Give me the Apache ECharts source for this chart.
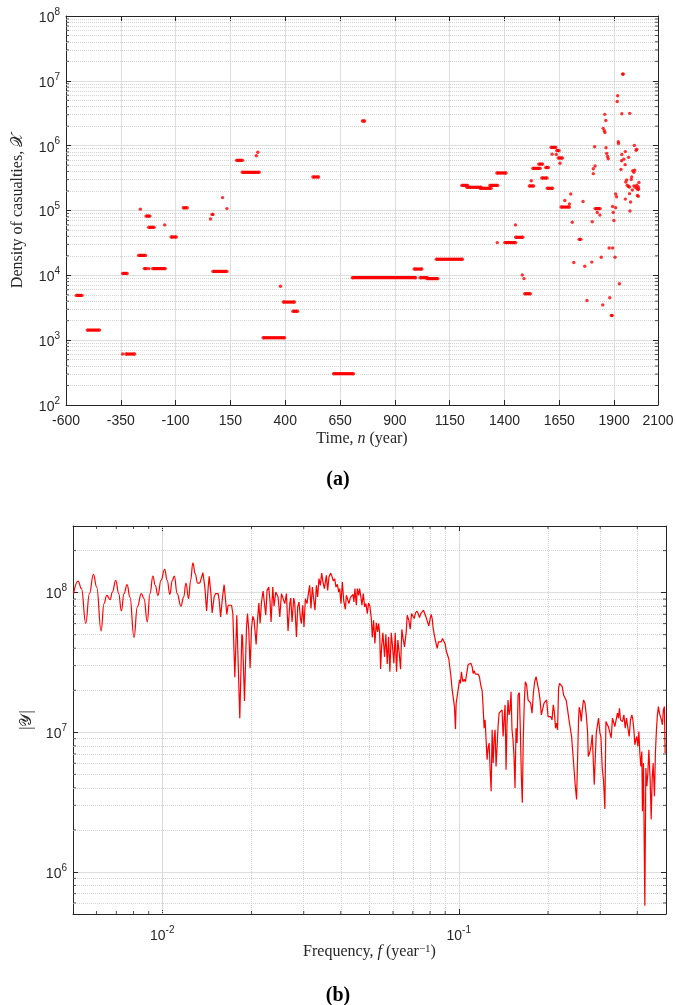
<!DOCTYPE html>
<html><head><meta charset="utf-8">
<script src="https://cdn.jsdelivr.net/npm/echarts@6/dist/echarts.min.js"></script>
<style>html,body{margin:0;padding:0;background:#fff}#c{width:676px;height:1005px}</style>
</head><body><div id="c"></div>
<script>
// ---------- Panel (a): density of casualties, runs [startYear, endYear, density]
const warRuns = [
[-553,-527,4900],[-503,-447,1430],[-342,-321,10700],[-342,-342,611],[-327,-287,611],
[-269,-237,20300],[-261,-261,105000],[-235,-217,82000],[-223,-198,55000],[-243,-233,12700],
[-222,-222,12700],[-205,-147,12700],[-150,-150,60000],[-121,-97,39000],[-65,-47,110000],
[59,59,74000],[66,70,87000],[70,134,11500],[114,114,158000],[134,134,107000],
[178,205,594000],[204,281,388000],[268,268,700000],[275,275,790000],[299,397,1090],
[378,378,6800],[391,442,3870],[435,456,2790],[526,552,329000],[620,711,304],
[706,995,9200],[752,762,2400000],[988,1023,12500],[1015,1048,9200],[1046,1096,8900],
[1089,1208,17700],[1205,1232,244000],[1228,1293,228000],[1289,1339,220000],[1333,1369,244000],
[1365,1407,379000],[1367,1367,32000],[1401,1451,32000],[1450,1450,60000],[1451,1483,38600],
[1481,1481,10100],[1489,1489,8900],[1492,1518,5200],[1522,1522,288000],[1513,1533,239000],
[1529,1563,447000],[1556,1574,520000],[1588,1600,460000],[1570,1594,317000],[1595,1619,220000],
[1612,1634,940000],[1617,1617,740000],[1638,1649,840000],[1636,1636,730000],[1645,1664,645000],
[1653,1653,535000],[1702,1702,180000],[1675,1675,143000],[1658,1696,113000],[1696,1696,126000],
[1709,1709,66000],[1716,1716,15800],[1740,1748,35900],[1758,1758,138000],[1766,1766,13800],
[1776,1776,4100],[1798,1798,16000],[1800,1800,67000],[1811,1811,960000],[1813,1813,485000],
[1805,1805,440000],[1805,1805,370000],[1813,1836,107000],[1823,1823,93000],[1835,1835,85000],
[1841,1841,19000],[1848,1848,3500],[1857,1857,3040000],[1862,1862,2450000],[1850,1850,1850000],
[1855,1855,1700000],[1858,1858,1600000],[1863,1863,930000],[1866,1866,760000],[1870,1870,680000],
[1873,1873,630000],[1877,1877,26400],[1893,1893,26400],[1880,1880,4500],[1887,1891,2400],
[1893,1893,115000],[1896,1896,93000],[1899,1899,70000],[1904,1904,19000],[1907,1907,180000],
[1911,1911,163000],[1907,1907,110000],[1914,1914,4800000],[1916,1916,5900000],[1919,1919,1150000],
[1920,1920,1080000],[1924,1924,7400],[1935,1935,3100000],[1938,1942,12700000],[1971,1971,3150000],
[1935,1935,730000],[1951,1951,810000],[1966,1966,660000],[1992,1992,1010000],[2000,2000,850000],
[2003,2003,880000],[1934,1934,586000],[1944,1944,620000],[1950,1950,510000],[1931,1931,430000],
[1985,1985,410000],[1990,1990,390000],[1994,1994,420000],[1980,1980,330000],[1957,1957,295000],
[1953,1953,275000],[1978,1978,300000],[1960,1960,245000],[1965,1965,235000],[1970,1970,230000],
[1990,1990,240000],[1995,1995,230000],[2003,2003,245000],[2010,2010,230000],[2013,2013,270000],
[2003,2003,220000],[2008,2008,210000],[2012,2012,215000],[1983,1983,207000],[1970,1970,182000],
[2006,2006,170000],[2010,2010,166000],[1951,1951,150000],[1975,1975,135000],[1972,1972,98000]
];
const timeRange = [-600, 2100];
const timeTickStep = 250;
const densityRange = [1e2, 1e8];

// ---------- Panel (b): spectrum [frequency (1/year), |Y|]
const spectrum = [
[0.00502,9.84e7],[0.00520,1.21e8],[0.00534,1.068e8],[0.00552,6.01e7],[0.00568,9.84e7],[0.00586,1.35e8],
[0.00601,1.096e8],[0.00622,5.32e7],[0.00636,8.35e7],[0.00650,9.57e7],[0.00667,8.92e7],[0.00679,1.01e8],
[0.00697,1.224e8],[0.00713,9.84e7],[0.00728,7.39e7],[0.00743,9.84e7],[0.00761,1.14e8],[0.00778,9.30e7],
[0.00803,4.78e7],[0.00824,7.90e7],[0.00850,9.84e7],[0.00868,9.06e7],[0.00890,6.17e7],[0.00909,9.84e7],
[0.00930,1.313e8],[0.00947,1.127e8],[0.00967,9.57e7],[0.00990,1.224e8],[0.01019,1.466e8],[0.01039,1.224e8],
[0.01061,9.72e7],[0.01081,1.224e8],[0.01098,1.313e8],[0.01123,9.84e7],[0.01156,7.99e7],[0.01181,9.30e7],
[0.01202,1.171e8],[0.01227,9.06e7],[0.01246,1.224e8],[0.01269,1.637e8],[0.01291,1.366e8],[0.01316,1.171e8],
[0.01339,1.171e8],
[0.01371,1.389e8],[0.01392,1.096e8],[0.01411,7.39e7],[0.01429,1.096e8],[0.01440,1.307e8],[0.01459,9.84e7],
[0.01473,7.15e7],[0.01496,9.30e7],[0.01513,9.84e7],[0.01544,9.84e7],[0.01556,8.81e7],[0.01573,6.70e7],
[0.01597,9.30e7],[0.01617,1.14e8],[0.01635,8.81e7],[0.01651,6.97e7],[0.01668,8.12e7],[0.01686,8.35e7],
[0.01713,8.12e7],[0.01730,7.08e7],[0.01757,2.476e7],[0.01784,6.89e7],[0.01798,7.08e7],[0.01826,1.263e7],
[0.01855,5.04e7],[0.01865,4.82e7],[0.01894,1.677e7],[0.01924,5.68e7],[0.01939,7.08e7],[0.01958,5.38e7],
[0.01978,2.87e7],[0.02000,5.54e7],[0.02020,6.78e7],[0.02041,6.34e7],[0.02073,4.26e7],[0.02095,6.34e7],
[0.02117,8.43e7],[0.02138,6.01e7],[0.02161,8.57e7],[0.02188,1.027e8],[0.02212,1.01e8],[0.02234,6.89e7],
[0.02257,1.038e8],[0.02287,1.096e8],[0.02310,8.57e7],[0.02328,6.17e7],[0.02359,1.096e8],[0.02383,7.99e7],
[0.02415,1.01e8],[0.02439,9.84e7],[0.02458,9.30e7],[0.02491,6.70e7],[0.02524,9.84e7],[0.02555,9.84e7],
[0.02589,8.35e7],[0.02623,9.84e7],[0.02656,5.32e7],[0.02692,8.35e7],[0.02713,9.15e7],[0.02740,6.17e7],
[0.02776,9.15e7],[0.02798,8.35e7],[0.02835,4.82e7],[0.02863,7.90e7],[0.02892,8.57e7],[0.02924,6.52e7],
[0.02947,6.01e7],[0.02976,8.12e7],[0.03006,5.68e7],[0.03039,9.06e7],[0.03077,8.35e7],[0.03110,9.84e7],
[0.03142,1.127e8],[0.03174,7.69e7],[0.03208,1.096e8],[0.03241,1.068e8],[0.03274,7.48e7],[0.03310,1.127e8],
[0.03343,9.30e7],[0.03377,1.259e8],[0.03414,1.127e8],[0.03449,1.380e8],[0.03484,1.190e8],[0.03522,1.068e8],
[0.03549,1.096e8],[0.03577,1.329e8],[0.03613,1.038e8],[0.03650,1.292e8],[0.03698,1.380e8],[0.03736,1.307e8],
[0.03777,1.21e8],[0.03815,1.259e8],[0.03854,1.096e8],[0.03896,1.146e8],[0.03936,1.01e8],[0.03966,1.068e8],
[0.04007,8.35e7],[0.04050,1.190e8],[0.04091,8.81e7],[0.04145,7.60e7],[0.04178,9.57e7],[0.04219,9.84e7],
[0.04262,8.35e7],[0.04308,9.21e7],[0.04352,9.30e7],[0.04397,9.72e7],[0.04431,8.57e7],[0.04465,1.068e8],
[0.04514,8.12e7],[0.04549,1.068e8],[0.04595,9.57e7],[0.04631,1.068e8],[0.04677,9.30e7],[0.04714,8.12e7],
[0.04765,9.84e7],[0.04814,7.90e7],[0.04863,8.35e7],[0.04916,7.08e7],[0.04966,8.43e7],[0.05016,7.99e7],
[0.05071,6.52e7],[0.05110,4.78e7],[0.05162,6.34e7],[0.05214,4.33e7],[0.05271,6.07e7],[0.05325,5.24e7],
[0.05366,6.01e7],[0.05408,5.24e7],[0.05450,2.84e7],[0.05492,4.09e7],[0.05548,5.15e7],[0.05621,3.47e7],
[0.05678,5.04e7],[0.05740,3.08e7],[0.05798,4.82e7],[0.05857,2.71e7],[0.05921,5.15e7],[0.05981,4.09e7],
[0.06040,3.12e7],[0.06107,5.15e7],[0.06168,2.71e7],[0.06231,4.57e7],[0.06299,3.67e7],[0.06363,2.83e7],
[0.06427,5.45e7],[0.06497,4.62e7],[0.06563,4.09e7],[0.06650,5.24e7],[0.06702,6.89e7],[0.06785,6.34e7],
[0.06860,5.47e7],[0.06929,7.08e7],[0.06999,6.89e7],[0.07075,6.52e7],[0.07147,7.15e7],[0.07220,7.39e7],
[0.07298,7.08e7],[0.07373,6.63e7],[0.07448,7.08e7],[0.07529,7.15e7],[0.07604,7.48e7],[0.07681,7.27e7],
[0.07765,6.63e7],[0.07844,6.17e7],[0.07924,5.78e7],[0.08010,6.52e7],[0.08073,7.00e7],[0.08135,6.52e7],
[0.08199,5.54e7],[0.08282,4.88e7],[0.08366,4.78e7],[0.08457,3.99e7],[0.08543,4.44e7],[0.08630,4.52e7],
[0.08724,4.44e7],[0.08812,4.70e7],[0.08902,4.78e7],[0.08999,4.28e7],[0.09091,3.77e7],[0.09183,3.67e7],
[0.09254,3.36e7],[0.09305,3.44e7],
[0.09399,2.57e7],[0.09502,2.01e7],[0.09598,1.954e7],[0.09672,1.528e7],[0.09748,1.054e7],[0.09800,1.615e7],
[0.09876,1.80e7],[0.09954,1.76e7],[0.1006,2.37e7],[0.1013,2.24e7],[0.1021,2.71e7],[0.1032,2.30e7],
[0.1043,2.40e7],[0.1053,2.30e7],[0.1064,2.64e7],[0.1076,3.06e7],[0.1086,3.02e7],[0.1098,3.12e7],
[0.1110,2.94e7],[0.1118,2.64e7],[0.1127,2.76e7],[0.1138,2.61e7],[0.1150,2.67e7],[0.1162,2.61e7],
[0.1174,2.50e7],[0.1186,2.18e7],[0.1199,1.99e7],[0.1208,1.528e7],[0.1218,1.071e7],[0.1227,1.228e7],
[0.1237,1.194e7],[0.1246,6.37e6],[0.1256,7.72e6],[0.1266,8.38e6],[0.1276,5.40e6],[0.1286,3.78e6],
[0.1296,1.042e7],[0.1306,6.03e6],[0.1316,8.84e6],[0.1326,1.042e7],[0.1336,5.70e6],[0.1347,7.92e6],
[0.1357,1.10e7],[0.1368,1.370e7],[0.1378,1.333e7],[0.1389,1.407e7],[0.1400,1.447e7],[0.1411,9.33e6],
[0.1422,1.228e7],[0.1433,1.571e7],[0.1444,5.40e6],[0.1455,1.163e7],[0.1466,1.705e7],[0.1478,1.333e7],
[0.1489,1.447e7],[0.1501,1.954e7],[0.1512,1.042e7],[0.1524,8.84e6],[0.1536,6.72e6],[0.1548,4.00e6],
[0.1560,1.071e7],[0.1573,8.38e6],[0.1585,1.851e7],[0.1601,1.922e7],[0.1613,1.042e7],[0.1626,4.84e6],
[0.1638,3.13e6],[0.1651,9.33e6],[0.1664,1.658e7],[0.1677,2.30e7],[0.1694,2.18e7],[0.1713,1.705e7],
[0.1730,1.658e7],[0.1748,1.615e7],[0.1767,1.370e7],[0.1785,1.903e7],[0.1803,2.30e7],[0.1823,2.50e7],
[0.1841,2.57e7],[0.1860,2.01e7],[0.1880,1.705e7],[0.1899,1.333e7],[0.1918,1.370e7],[0.1939,1.615e7],
[0.1959,1.658e7],[0.1979,1.705e7],[0.2000,1.296e7],[0.2020,1.28e7],[0.2041,1.296e7],[0.2063,1.228e7],
[0.2084,1.571e7],[0.2100,1.407e7],
[0.2121,1.071e7],[0.2138,1.163e7],[0.2154,1.042e7],[0.2171,2.07e7],[0.2188,2.24e7],[0.2212,2.27e7],
[0.2234,2.12e7],[0.2257,1.851e7],[0.2282,1.80e7],[0.2305,1.686e7],[0.2328,1.658e7],[0.2354,1.228e7],
[0.2378,1.194e7],[0.2402,9.33e6],[0.2428,6.91e6],[0.2453,6.72e6],[0.2472,4.11e6],[0.2497,3.30e6],
[0.2516,6.37e6],[0.2535,1.228e7],[0.2549,1.512e7],[0.2569,1.407e7],[0.2589,1.194e7],[0.2609,1.447e7],
[0.2636,1.705e7],[0.2665,1.615e7],[0.2692,1.333e7],[0.2719,1.013e7],[0.2734,6.72e6],[0.2762,7.10e6],
[0.2792,7.92e6],[0.2820,9.60e6],[0.2842,9.33e6],[0.2864,4.22e6],[0.2886,6.37e6],[0.2909,9.87e6],
[0.2931,1.10e7],[0.2961,1.263e7],[0.2993,9.87e6],[0.3016,9.33e6],[0.3047,5.55e6],[0.3077,4.58e6],
[0.3111,2.83e6],[0.3135,1.194e7],[0.3167,1.163e7],[0.3199,1.089e7],[0.3234,1.10e7],[0.3267,9.09e6],
[0.3299,1.263e7],[0.3325,1.277e7],[0.3361,1.10e7],[0.3396,1.131e7],[0.3430,1.370e7],[0.3456,1.263e7],
[0.3484,1.488e7],[0.3511,1.228e7],[0.3538,1.263e7],[0.3566,1.194e7],[0.3605,1.333e7],[0.3642,1.071e7],
[0.3679,1.263e7],[0.3719,1.071e7],[0.3757,9.33e6],[0.3795,1.228e7],[0.3836,1.333e7],[0.3866,1.228e7],
[0.3896,1.042e7],[0.3926,8.14e6],[0.3957,8.84e6],[0.3987,9.33e6],[0.4018,7.92e6],[0.4050,1.013e7],
[0.4081,7.10e6],[0.4113,5.70e6],[0.4145,7.29e6],[0.4164,2.72e6],[0.4197,6.03e6],[0.4219,6.03e6],
[0.4242,5.72e5],[0.4276,5.55e6],[0.4309,4.11e6],[0.4343,5.12e6],[0.4377,7.50e6],[0.4421,4.58e6],
[0.4456,2.38e6],[0.4490,4.58e6],[0.4525,6.03e6],[0.4571,3.48e6],[0.4606,7.10e6],[0.4642,1.042e7],
[0.4678,1.333e7],[0.4714,1.528e7],[0.4751,1.370e7],[0.4788,1.370e7],[0.4825,1.228e7],[0.4862,1.131e7],
[0.4900,1.447e7],[0.4938,1.528e7],[0.4966,7.10e6]
];
const freqRange = [0.005, 0.5];
const magRange = [5e5, 3e8];
const smoothBelowFreq = 0.0134; // the low-frequency part of the trace is drawn as a smooth curve

// ---------- styling
const AX = '#262626', GRIDC = '#dedede', MINORC = '#d4d4d4', RED = '#ff0000';
const SERIF = "'Liberation Serif', 'DejaVu Serif', serif";
const SANS = "'Liberation Sans', Arial, sans-serif";

function minorValues(lo, hi, min, max) {
  const out = [];
  for (let e = lo; e < hi; e++) for (let m = 2; m <= 9; m++) {
    const v = m * Math.pow(10, e);
    if (v > min * 1.0001 && v < max * 0.9999) out.push(v);
  }
  return out;
}
const yMinorA = minorValues(2, 8, densityRange[0], densityRange[1]);
const xMinorB = minorValues(-3, 0, freqRange[0], freqRange[1]);
const yMinorB = minorValues(5, 9, magRange[0], magRange[1]);

function pow10Label(v) {
  const e = Math.log10(v), r = Math.round(e);
  if (Math.abs(e - r) > 1e-6) return '';
  return '{b|10}{s|' + r + '}';
}
const powRich = {
  b: { fontFamily: SANS, fontSize: 14, color: AX, lineHeight: 18, verticalAlign: 'bottom' },
  s: { fontFamily: SANS, fontSize: 10, color: AX, lineHeight: 10, verticalAlign: 'top' }
};
const nameRich = {
  r: { fontFamily: SERIF, fontSize: 16, color: AX },
  i: { fontFamily: SERIF, fontSize: 16, color: AX, fontStyle: 'italic' },
  s: { fontFamily: SERIF, fontSize: 11, color: AX, verticalAlign: 'top', lineHeight: 10 }
};

function axisBase(extra) {
  return Object.assign({
    axisLine: { show: true, onZero: false, lineStyle: { color: AX, width: 1 } },
    axisTick: { show: true, inside: true, length: 5, lineStyle: { color: AX, width: 1 } },
    splitLine: { show: false },
    axisLabel: { show: false },
    minorTick: { show: false },
    silent: true
  }, extra);
}

function tickSeries(xi, yi, pts, size, offset) {
  return { type: 'scatter', xAxisIndex: xi, yAxisIndex: yi, data: pts, symbol: 'rect',
    symbolSize: size, symbolOffset: offset, itemStyle: { color: AX }, silent: true,
    clip: false, z: 6, animation: false };
}

const runsOnly = warRuns.filter(d => d[1] > d[0]);
const endPoints = [];
warRuns.forEach(d => { endPoints.push([d[0], d[2]]); if (d[1] > d[0]) endPoints.push([d[1], d[2]]); });
const spectrumLow = spectrum.filter(d => d[0] <= smoothBelowFreq);
const spectrumHigh = spectrum.filter(d => d[0] >= spectrumLow[spectrumLow.length - 1][0]);

const chart = echarts.init(document.getElementById('c'), null, { renderer: 'canvas' });
chart.setOption({
  animation: false,
  backgroundColor: '#ffffff',
  title: [
    { text: '{p|(}{b|a}{p|)}', left: 'center', top: 465,
      textStyle: { rich: { p: { fontFamily: SERIF, fontSize: 20, color: '#000' }, b: { fontFamily: SERIF, fontSize: 20, fontWeight: 'bold', color: '#000' } } } },
    { text: '{p|(}{b|b}{p|)}', left: 'center', top: 981,
      textStyle: { rich: { p: { fontFamily: SERIF, fontSize: 20, color: '#000' }, b: { fontFamily: SERIF, fontSize: 20, fontWeight: 'bold', color: '#000' } } } }
  ],
  grid: [
    { left: 66, top: 16, width: 592, height: 389, containLabel: false, outerBoundsMode: 'none' },
    { left: 73, top: 526, width: 593, height: 388, containLabel: false, outerBoundsMode: 'none' }
  ],
  xAxis: [
    axisBase({ gridIndex: 0, type: 'value', position: 'bottom', min: timeRange[0], max: timeRange[1], interval: timeTickStep,
      axisLabel: { show: true, fontFamily: SANS, fontSize: 14, color: AX, margin: 9, formatter: v => String(v) },
      splitLine: { show: true, lineStyle: { color: GRIDC, width: 1 } },
      name: '{r|Time, }{i|n}{r| (year)}', nameLocation: 'middle', nameGap: 26,
      nameTextStyle: { rich: nameRich } }),
    axisBase({ gridIndex: 0, type: 'value', position: 'top', min: timeRange[0], max: timeRange[1], interval: timeTickStep }),
    axisBase({ gridIndex: 1, type: 'log', logBase: 10, position: 'bottom', min: freqRange[0], max: freqRange[1],
      axisLabel: { show: true, formatter: pow10Label, rich: powRich, margin: 11 },
      splitLine: { show: true, lineStyle: { color: GRIDC, width: 1 } },
      name: '{r|Frequency, }{i|f}{r| (year}{s|−1}{r|)}', nameLocation: 'middle', nameGap: 30,
      nameTextStyle: { rich: nameRich } }),
    axisBase({ gridIndex: 1, type: 'log', logBase: 10, position: 'top', min: freqRange[0], max: freqRange[1] })
  ],
  yAxis: [
    axisBase({ gridIndex: 0, type: 'log', logBase: 10, position: 'left', min: densityRange[0], max: densityRange[1],
      axisLabel: { show: true, formatter: pow10Label, rich: powRich, margin: 6 },
      splitLine: { show: true, lineStyle: { color: GRIDC, width: 1 } },
      name: 'Density of casualties, 𝒳', nameLocation: 'middle', nameGap: 40,
      nameTextStyle: { fontFamily: SERIF, fontSize: 16, color: AX } }),
    axisBase({ gridIndex: 0, type: 'log', logBase: 10, position: 'right', min: densityRange[0], max: densityRange[1] }),
    axisBase({ gridIndex: 1, type: 'log', logBase: 10, position: 'left', min: magRange[0], max: magRange[1],
      axisLabel: { show: true, formatter: pow10Label, rich: powRich, margin: 6 },
      splitLine: { show: true, lineStyle: { color: GRIDC, width: 1 } },
      name: '|𝒴|', nameLocation: 'middle', nameGap: 34,
      nameTextStyle: { fontFamily: SERIF, fontSize: 16, color: AX } }),
    axisBase({ gridIndex: 1, type: 'log', logBase: 10, position: 'right', min: magRange[0], max: magRange[1] })
  ],
  series: [
    { type: 'custom', xAxisIndex: 0, yAxisIndex: 0, data: runsOnly, encode: { x: [0, 1], y: 2 }, silent: true, z: 3,
      renderItem: function (params, api) {
        const p0 = api.coord([api.value(0), api.value(2)]);
        const p1 = api.coord([api.value(1), api.value(2)]);
        return { type: 'rect', shape: { x: p0[0], y: p0[1] - 1.6, width: p1[0] - p0[0], height: 3.2 }, style: { fill: RED } };
      } },
    { type: 'scatter', xAxisIndex: 0, yAxisIndex: 0, data: endPoints, symbol: 'circle', symbolSize: 3.4,
      itemStyle: { color: RED }, silent: true, z: 3,
      markLine: { silent: true, z: 1, symbol: ['none', 'none'], label: { show: false }, animation: false,
        lineStyle: { type: 'dotted', color: MINORC, width: 1 }, emphasis: { disabled: true },
        data: yMinorA.map(v => ({ yAxis: v })) } },
    tickSeries(0, 0, yMinorA.map(v => [timeRange[0], v]), [3, 1], [1.5, 0]),
    tickSeries(0, 0, yMinorA.map(v => [timeRange[1], v]), [3, 1], [-1.5, 0]),
    { type: 'line', xAxisIndex: 2, yAxisIndex: 2, data: spectrumLow, showSymbol: false, symbol: 'none',
      smooth: 0.45, smoothMonotone: 'x',
      lineStyle: { color: RED, width: 1.2 }, silent: true, z: 3 },
    { type: 'line', xAxisIndex: 2, yAxisIndex: 2, data: spectrumHigh, showSymbol: false, symbol: 'none',
      lineStyle: { color: RED, width: 1.2 }, silent: true, z: 3,
      markLine: { silent: true, z: 1, symbol: ['none', 'none'], label: { show: false }, animation: false,
        lineStyle: { type: 'dotted', color: MINORC, width: 1 }, emphasis: { disabled: true },
        data: yMinorB.map(v => ({ yAxis: v })).concat(xMinorB.map(v => ({ xAxis: v }))) } },
    tickSeries(2, 2, yMinorB.map(v => [freqRange[0], v]), [3, 1], [1.5, 0]),
    tickSeries(2, 2, yMinorB.map(v => [freqRange[1], v]), [3, 1], [-1.5, 0]),
    tickSeries(2, 2, xMinorB.map(v => [v, magRange[0]]), [1, 3], [0, -1.5]),
    tickSeries(2, 2, xMinorB.map(v => [v, magRange[1]]), [1, 3], [0, 1.5])
  ]
});
</script>
</body></html>
